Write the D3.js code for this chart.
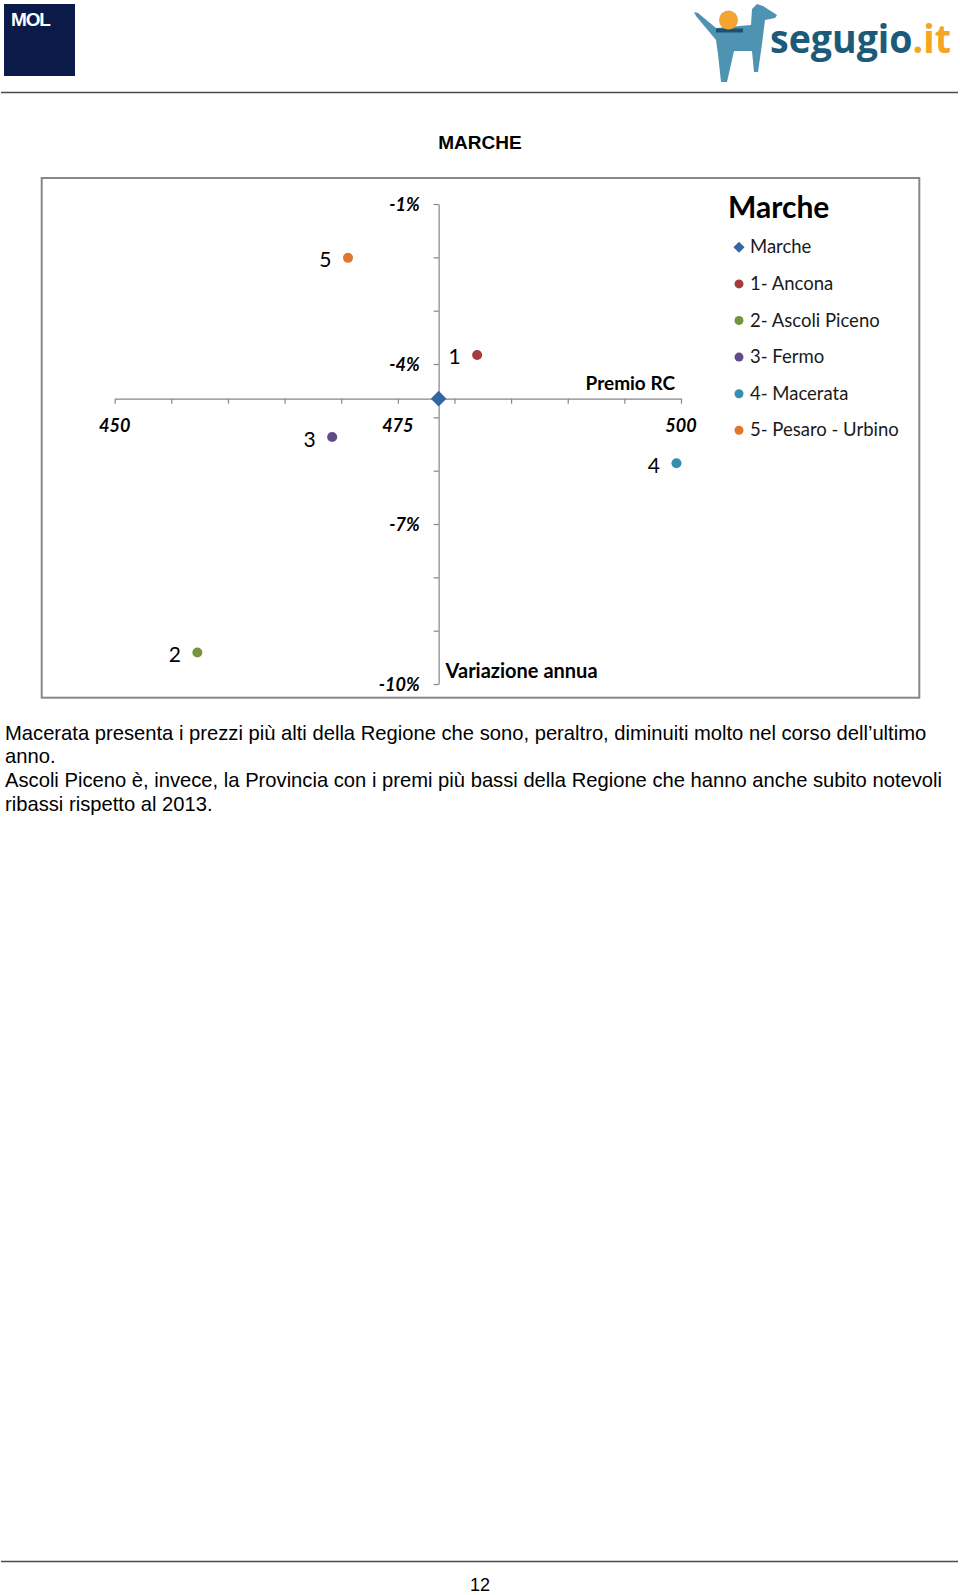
<!DOCTYPE html>
<html>
<head>
<meta charset="utf-8">
<script src="https://cdn.jsdelivr.net/npm/d3@7"></script>
<style>
  html, body { margin: 0; padding: 0; background: #ffffff; }
  svg { display: block; }
</style>
</head>
<body>
<script>
// ---------- DATA ----------
const categories = ["Marche", "1- Ancona", "2- Ascoli Piceno", "3- Fermo", "4- Macerata", "5- Pesaro - Urbino"];
const pointLabels = ["", "1", "2", "3", "4", "5"];
const premioRC = [478.6, 482.0, 457.3, 469.2, 499.6, 470.6];
const variazioneAnnua = [-4.65, -3.83, -9.41, -5.37, -5.86, -2.01];
const seriesColors = ["#3465a4", "#a53b3a", "#77953d", "#604a8a", "#3490ad", "#e0772d"];
const xTickValues = [450, 455, 460, 465, 470, 475, 480, 485, 490, 495, 500];
const xTickLabels = [450, 475, 500];
const yTickValues = [-1, -2, -3, -4, -5, -6, -7, -8, -9, -10];
const yTickLabels = [-1, -4, -7, -10];
const chartTitle = "MARCHE";
const legendTitle = "Marche";
const xAxisTitle = "Premio RC";
const yAxisTitle = "Variazione annua";
const paragraphLines = [
  "Macerata presenta i prezzi più alti della Regione che sono, peraltro, diminuiti molto nel corso dell’ultimo",
  "anno.",
  "Ascoli Piceno è, invece, la Provincia con i premi più bassi della Regione che hanno anche subito notevoli",
  "ribassi rispetto al 2013."
];
const pageNumber = "12";

// ---------- PAGE ----------
const W = 960, H = 1595;
const svg = d3.select("body").append("svg").attr("width", W).attr("height", H);

// header logos
svg.append("rect").attr("x", 4).attr("y", 4).attr("width", 71).attr("height", 72).attr("fill", "#0b1a48");
svg.append("text").attr("x", 11).attr("y", 25.5).attr("fill", "#ffffff")
  .attr("font-family", "Liberation Sans, Arial, sans-serif").attr("font-weight", "bold")
  .attr("font-size", 19).attr("letter-spacing", -1.2).text("MOL");

const logo = svg.append("g");
logo.append("path")
  .attr("d", "M694,12 L698,13 L716,28 L751,25 L752,9 L757,4 L763,6 L777,15 L775,18 L765,20 L762,44 L758,72 L754,72 L752,51 L734,51 L727,82 L721,82 L718,54 L716,40 L696,16 Z")
  .attr("fill", "#4e94b2");
logo.append("rect").attr("x", 716).attr("y", 28.5).attr("width", 27).attr("height", 4).attr("fill", "#1d4f6e");
logo.append("circle").attr("cx", 728.5).attr("cy", 20).attr("r", 9.5).attr("fill", "#f4a531");

const logoText = logo.append("text").attr("x", 0).attr("y", 0)
  .attr("font-family", "Open Sans, sans-serif").attr("font-weight", "bold").attr("font-size", 40);
logoText.append("tspan").attr("fill", "#1b5a78").text("segugio");
logoText.append("tspan").attr("fill", "#f4a623").text(".it");
const natW = logoText.node().getComputedTextLength() || 200;
logoText.attr("transform", `translate(770,53) scale(${181 / natW},1)`);

svg.append("line").attr("x1", 1).attr("x2", 958).attr("y1", 92.5).attr("y2", 92.5)
  .attr("stroke", "#4a4a4a").attr("stroke-width", 1.6);

// chart title
svg.append("text").attr("x", 480).attr("y", 149.3).attr("text-anchor", "middle")
  .attr("font-family", "Liberation Sans, Arial, sans-serif").attr("font-weight", "bold").attr("font-size", 19)
  .attr("fill", "#000").text(chartTitle);

// chart frame
svg.append("rect").attr("x", 41.7).attr("y", 178).attr("width", 877.6).attr("height", 519.7)
  .attr("fill", "#ffffff").attr("stroke", "#878787").attr("stroke-width", 2);

// ---------- SCALES ----------
const x = d3.scaleLinear().domain([450, 500]).range([114.7, 681]);
const y = d3.scaleLinear().domain([-1, -10]).range([204, 684]);
const axisY = y(variazioneAnnua[0]);   // x-axis crosses at Marche value
const axisX = x(premioRC[0]);          // y-axis crosses at Marche value

const font = "Lato, Carlito, Calibri, sans-serif";

// x axis
const gx = svg.append("g").attr("transform", `translate(0,${axisY})`)
  .call(d3.axisBottom(x).tickValues(xTickValues).tickSize(5).tickSizeOuter(0).tickFormat(""));
gx.selectAll("path, line").attr("stroke", "#868686").attr("stroke-width", 1.2);

svg.append("g").selectAll("text").data(xTickLabels).join("text")
  .attr("x", d => x(d)).attr("y", axisY + 33.5).attr("text-anchor", "middle")
  .attr("font-family", font).attr("font-weight", "bold").attr("font-style", "italic").attr("font-size", 18)
  .attr("fill", "#000").text(d => d);

// y axis
const gy = svg.append("g").attr("transform", `translate(${axisX},0)`)
  .call(d3.axisLeft(y).tickValues(yTickValues).tickSize(5).tickSizeOuter(0).tickFormat(""));
gy.selectAll("path, line").attr("stroke", "#868686").attr("stroke-width", 1.2);

svg.append("g").selectAll("text").data(yTickLabels).join("text")
  .attr("x", axisX - 19).attr("y", d => y(d) + 7).attr("text-anchor", "end")
  .attr("font-family", font).attr("font-weight", "bold").attr("font-style", "italic").attr("font-size", 18)
  .attr("fill", "#000").text(d => d + "%");

// axis titles
svg.append("text").attr("x", x(500) - 6).attr("y", axisY - 8.5).attr("text-anchor", "end")
  .attr("font-family", font).attr("font-weight", "bold").attr("font-size", 19).attr("fill", "#000").text(xAxisTitle);
svg.append("text").attr("x", axisX + 7).attr("y", y(-10) - 6.5)
  .attr("font-family", font).attr("font-weight", "bold").attr("font-size", 20).attr("fill", "#000").text(yAxisTitle);

// ---------- POINTS ----------
const pts = categories.map((c, i) => ({ name: c, label: pointLabels[i], px: premioRC[i], vy: variazioneAnnua[i], color: seriesColors[i], i }));

svg.append("g").selectAll("path").data(pts.filter(d => d.i === 0)).join("path")
  .attr("d", d3.symbol().type(d3.symbolSquare).size(122)())
  .attr("transform", d => `translate(${x(d.px)},${y(d.vy)}) rotate(45)`)
  .attr("fill", d => d.color);

svg.append("g").selectAll("circle").data(pts.filter(d => d.i > 0)).join("circle")
  .attr("cx", d => x(d.px)).attr("cy", d => y(d.vy)).attr("r", 5).attr("fill", d => d.color);

svg.append("g").selectAll("text").data(pts.filter(d => d.i > 0)).join("text")
  .attr("x", d => x(d.px) - 16.5).attr("y", d => y(d.vy) + 9.5).attr("text-anchor", "end")
  .attr("font-family", font).attr("font-size", 21).attr("fill", "#000").text(d => d.label);

// ---------- LEGEND ----------
svg.append("text").attr("x", 728).attr("y", 217.6)
  .attr("font-family", font).attr("font-weight", "bold").attr("font-size", 30).attr("fill", "#000").text(legendTitle);

const leg = svg.append("g").selectAll("g").data(pts).join("g")
  .attr("transform", d => `translate(739,${247.3 + d.i * 36.6})`);
leg.filter(d => d.i === 0).append("path")
  .attr("d", d3.symbol().type(d3.symbolSquare).size(62)()).attr("transform", "rotate(45)")
  .attr("fill", d => d.color);
leg.filter(d => d.i > 0).append("circle").attr("r", 4.5).attr("fill", d => d.color);
leg.append("text").attr("x", 11).attr("y", 6)
  .attr("font-family", font).attr("font-size", 18.5).attr("fill", "#1a1a1a").text(d => d.name);

// ---------- BODY TEXT ----------
svg.append("g").selectAll("text").data(paragraphLines).join("text")
  .attr("x", 5).attr("y", (d, i) => 739.5 + i * 23.7)
  .attr("font-family", "Liberation Sans, Arial, sans-serif").attr("font-size", 20.2).attr("fill", "#000")
  .text(d => d);

// footer
svg.append("line").attr("x1", 1).attr("x2", 958).attr("y1", 1561.5).attr("y2", 1561.5)
  .attr("stroke", "#4a4a4a").attr("stroke-width", 1.6);
svg.append("text").attr("x", 480).attr("y", 1591).attr("text-anchor", "middle")
  .attr("font-family", "Liberation Sans, Arial, sans-serif").attr("font-size", 18).attr("fill", "#000")
  .text(pageNumber);
</script>
</body>
</html>
